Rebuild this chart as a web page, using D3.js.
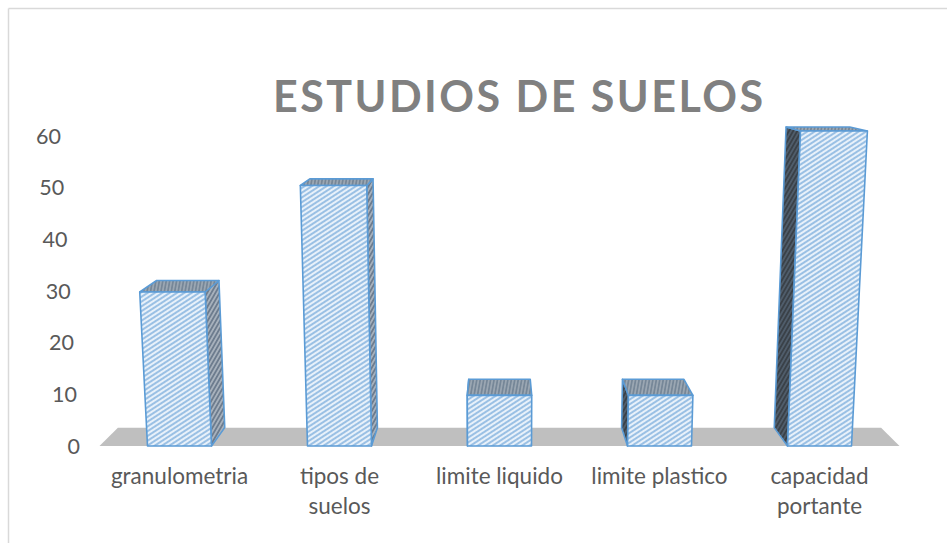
<!DOCTYPE html>
<html>
<head>
<meta charset="utf-8">
<script src="https://cdn.jsdelivr.net/npm/d3@7"></script>
<style>
  html, body { margin: 0; padding: 0; background: #fff; }
  svg { display: block; }
</style>
</head>
<body>
<svg id="chart" width="947" height="543"></svg>
<script>
// ---- data ----
const chartTitle = "ESTUDIOS DE SUELOS";
const categories = ["granulometria", "tipos de suelos", "limite liquido", "limite plastico", "capacidad portante"];
const categoryLines = [["granulometria"], ["tipos de", "suelos"], ["limite liquido"], ["limite plastico"], ["capacidad", "portante"]];
const values = [30, 50, 10, 10, 60];
const yTicks = [0, 10, 20, 30, 40, 50, 60];

// ---- layout ----
const W = 947, H = 543;
const svg = d3.select("#chart");
const FONT = "Lato, 'Open Sans', sans-serif";
const BLUE = "#5b9bd5";

// category positions along the front edge of the floor
const x = d3.scaleBand().domain(categories).range([99.5, 899.5]).paddingInner(0.6).paddingOuter(0.3);
// bar height in the front plane
const h = d3.scaleLinear().domain([0, 60]).range([0, 320.6]);
// value axis labels
const yLabel = d3.scaleLinear().domain([0, 60]).range([446, 136]);

// simple one-point perspective: camera above the centre, looking down
const XC = 499.5, Y0 = 446, K = 1.348e-4, BETA = 0.0482, P2 = 2.25;
function project(X, Hh, D) {
  const w = 1 - K * Hh + BETA * D;
  return [XC + (X - XC) / w, (Y0 - Hh + P2 * D) / w];
}
const poly = pts => d3.line()(pts.map(p => project(p[0], p[1], p[2]))) + "Z";

// ---- hatch patterns ----
const defs = svg.append("defs");
function hatch(id, bg, fg, angle, gap, sw) {
  const p = defs.append("pattern").attr("id", id)
    .attr("patternUnits", "userSpaceOnUse")
    .attr("width", 10).attr("height", gap)
    .attr("patternTransform", `rotate(${angle})`);
  p.append("rect").attr("width", 10).attr("height", gap).attr("fill", bg);
  p.append("line").attr("x1", 0).attr("x2", 10).attr("y1", gap / 2).attr("y2", gap / 2)
    .attr("stroke", fg).attr("stroke-width", sw);
}
hatch("hFront", "#e8f1fa", "#6fa6d9", -33, 4.0, 1.3);
hatch("hRight", "#a7b1bc", "#56687c", -60, 3.6, 1.3);
hatch("hLeft", "#3a4148", "#5a6b7c", -60, 3.6, 1.2);
hatch("hTop", "#9aa6b2", "#6b7d90", -80, 3.4, 1.3);

// ---- frame ----
svg.append("line").attr("x1", 8.5).attr("y1", 8.5).attr("x2", W).attr("y2", 8.5)
  .attr("stroke", "#d9d9d9").attr("stroke-width", 1.5);
svg.append("line").attr("x1", 8.5).attr("y1", 8.5).attr("x2", 8.5).attr("y2", H)
  .attr("stroke", "#d9d9d9").attr("stroke-width", 1.5);

// ---- title ----
svg.append("text").attr("x", 273).attr("y", 111.5)
  .attr("font-family", FONT).attr("font-weight", "bold").attr("font-size", 43)
  .attr("fill", "#808080")
  .attr("textLength", 490).attr("lengthAdjust", "spacing")
  .text(chartTitle);

// ---- floor ----
const [fx0, fx1] = x.range();
svg.append("path")
  .attr("d", poly([[fx0, 0, 0], [fx1, 0, 0], [fx1, 0, 1], [fx0, 0, 1]]))
  .attr("fill", "#bfbfbf");

// ---- bars ----
const bw = x.bandwidth();
const bars = svg.append("g").selectAll("g").data(categories).join("g");
bars.each(function (c, i) {
  const g = d3.select(this);
  const x0 = x(c), x1 = x0 + bw, hh = h(values[i]);
  const centre = x0 + bw / 2;
  const stroke = s => s.attr("stroke", BLUE).attr("stroke-width", 1.6).attr("stroke-linejoin", "round");
  if (centre < XC) {
    g.append("path").attr("d", poly([[x1, 0, 0], [x1, 0, 1], [x1, hh, 1], [x1, hh, 0]]))
      .attr("fill", "url(#hRight)").call(stroke);
  } else {
    g.append("path").attr("d", poly([[x0, 0, 0], [x0, 0, 1], [x0, hh, 1], [x0, hh, 0]]))
      .attr("fill", "url(#hLeft)").call(stroke);
  }
  g.append("path").attr("d", poly([[x0, hh, 0], [x1, hh, 0], [x1, hh, 1], [x0, hh, 1]]))
    .attr("fill", "url(#hTop)").call(stroke);
  g.append("path").attr("d", poly([[x0, 0, 0], [x1, 0, 0], [x1, hh, 0], [x0, hh, 0]]))
    .attr("fill", "url(#hFront)").call(stroke);
});

// ---- value axis labels ----
svg.append("g").selectAll("text").data(yTicks).join("text")
  .attr("x", d => project(80, h(d), 0)[0])
  .attr("y", d => yLabel(d) + 7.6)
  .attr("text-anchor", "end")
  .attr("font-family", FONT).attr("font-size", 21.5).attr("fill", "#595959")
  .text(d => d);

// ---- category labels ----
svg.append("g").selectAll("text").data(categories).join("text")
  .attr("text-anchor", "middle")
  .attr("font-family", FONT).attr("font-size", 22.5).attr("fill", "#595959")
  .each(function (c, i) {
    const t = d3.select(this);
    categoryLines[i].forEach((line, j) => {
      t.append("tspan").attr("x", x(c) + bw / 2).attr("y", 483.5 + j * 30).text(line);
    });
  });
</script>
</body>
</html>
